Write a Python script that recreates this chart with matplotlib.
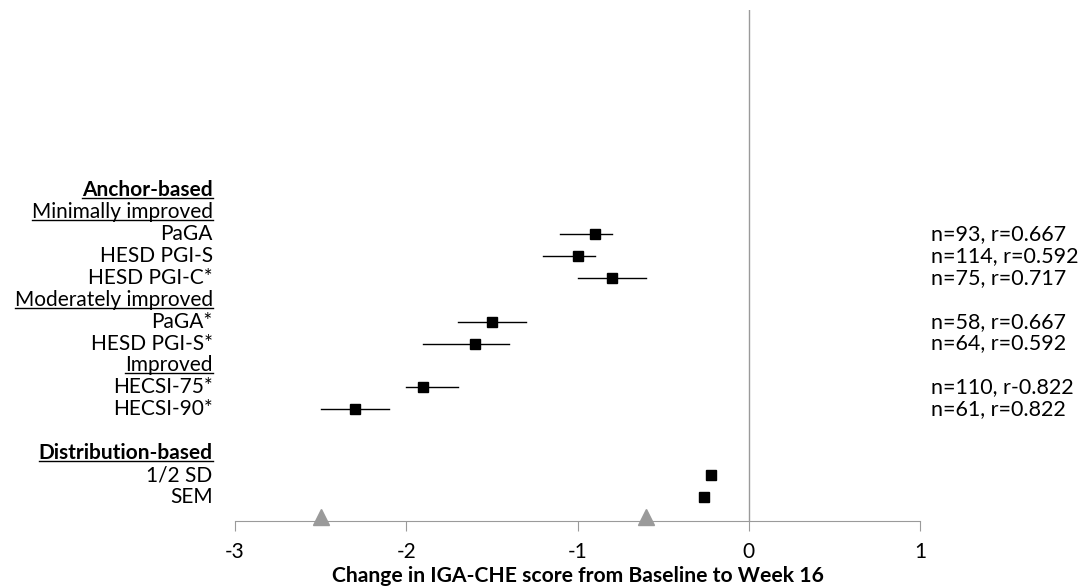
import matplotlib.pyplot as plt
from matplotlib.lines import Line2D

plt.rcParams['font.family'] = ['Lato', 'DejaVu Sans']

# rows top to bottom
labels = ["Anchor-based", "Minimally improved", "PaGA", "HESD PGI-S", "HESD PGI-C*",
          "Moderately improved", "PaGA*", "HESD PGI-S*", "Improved",
          "HECSI-75*", "HECSI-90*", "", "Distribution-based", "1/2 SD", "SEM"]
bold_rows = ["Anchor-based", "Distribution-based"]
underlined = ["Anchor-based", "Minimally improved", "Moderately improved",
              "Improved", "Distribution-based"]

# anchor-based estimates with CI
anchor_names = ["PaGA", "HESD PGI-S", "HESD PGI-C*", "PaGA*", "HESD PGI-S*",
                "HECSI-75*", "HECSI-90*"]
anchor_est = [-0.9, -1.0, -0.8, -1.5, -1.6, -1.9, -2.3]
anchor_lo = [-1.1, -1.2, -1.0, -1.7, -1.9, -2.0, -2.5]
anchor_hi = [-0.8, -0.9, -0.6, -1.3, -1.4, -1.7, -2.1]
anchor_notes = ["n=93, r=0.667", "n=114, r=0.592", "n=75, r=0.717",
                "n=58, r=0.667", "n=64, r=0.592", "n=110, r-0.822", "n=61, r=0.822"]

dist_names = ["1/2 SD", "SEM"]
dist_est = [-0.22, -0.26]

triangle_x = [-2.5, -0.6]

fig = plt.figure(figsize=(10.88, 5.88), dpi=100)
ax = fig.add_axes([0.216, 0.114, 0.6296, 0.869])

ypos = {name: i for i, name in enumerate(labels) if name}

for name, est, lo, hi, note in zip(anchor_names, anchor_est, anchor_lo, anchor_hi, anchor_notes):
    y = ypos[name]
    ax.plot([lo, hi], [y, y], color='black', lw=1, zorder=2)
    ax.plot(est, y, marker='s', color='black', ms=6.5, zorder=3)
    ax.text(1.062, y, note, ha='left', va='center', fontsize=15.5, clip_on=False)

for name, est in zip(dist_names, dist_est):
    ax.plot(est, ypos[name], marker='s', color='black', ms=6.5, zorder=3)

ax.plot(triangle_x, [14.9, 14.9], ls='none', marker='^', color='#9a9a9a', ms=12,
        clip_on=False, zorder=4)

ax.axvline(0, color='#9a9a9a', lw=1)

ax.set_xlim(-3, 1)
ax.set_ylim(15.09, -8.21)
ax.set_xticks([-3, -2, -1, 0, 1])
ax.set_xticklabels(['-3', '-2', '-1', '0', '1'], fontsize=15)
ax.set_yticks([])
for s in ['left', 'top', 'right']:
    ax.spines[s].set_visible(False)
ax.spines['bottom'].set_color('#9a9a9a')
ax.tick_params(axis='x', direction='out', length=7, color='#9a9a9a', pad=8)
ax.set_xlabel('Change in IGA-CHE score from Baseline to Week 16', fontsize=15.2,
              fontweight='bold', labelpad=3)

texts = []
for i, name in enumerate(labels):
    if not name:
        continue
    t = ax.text(-3.13, i, name, ha='right', va='center', fontsize=15,
                fontweight='bold' if name in bold_rows else 'normal', clip_on=False)
    if name in underlined:
        texts.append(t)

fig.canvas.draw()
r = fig.canvas.get_renderer()
inv = fig.transFigure.inverted()
for t in texts:
    bb = t.get_window_extent(r)
    x0, y0 = inv.transform((bb.x0, bb.y0 + 2))
    x1, _ = inv.transform((bb.x1, bb.y0 + 2))
    fig.add_artist(Line2D([x0, x1], [y0, y0], color='black', lw=1, transform=fig.transFigure))

fig.savefig('out.png', dpi=100)
